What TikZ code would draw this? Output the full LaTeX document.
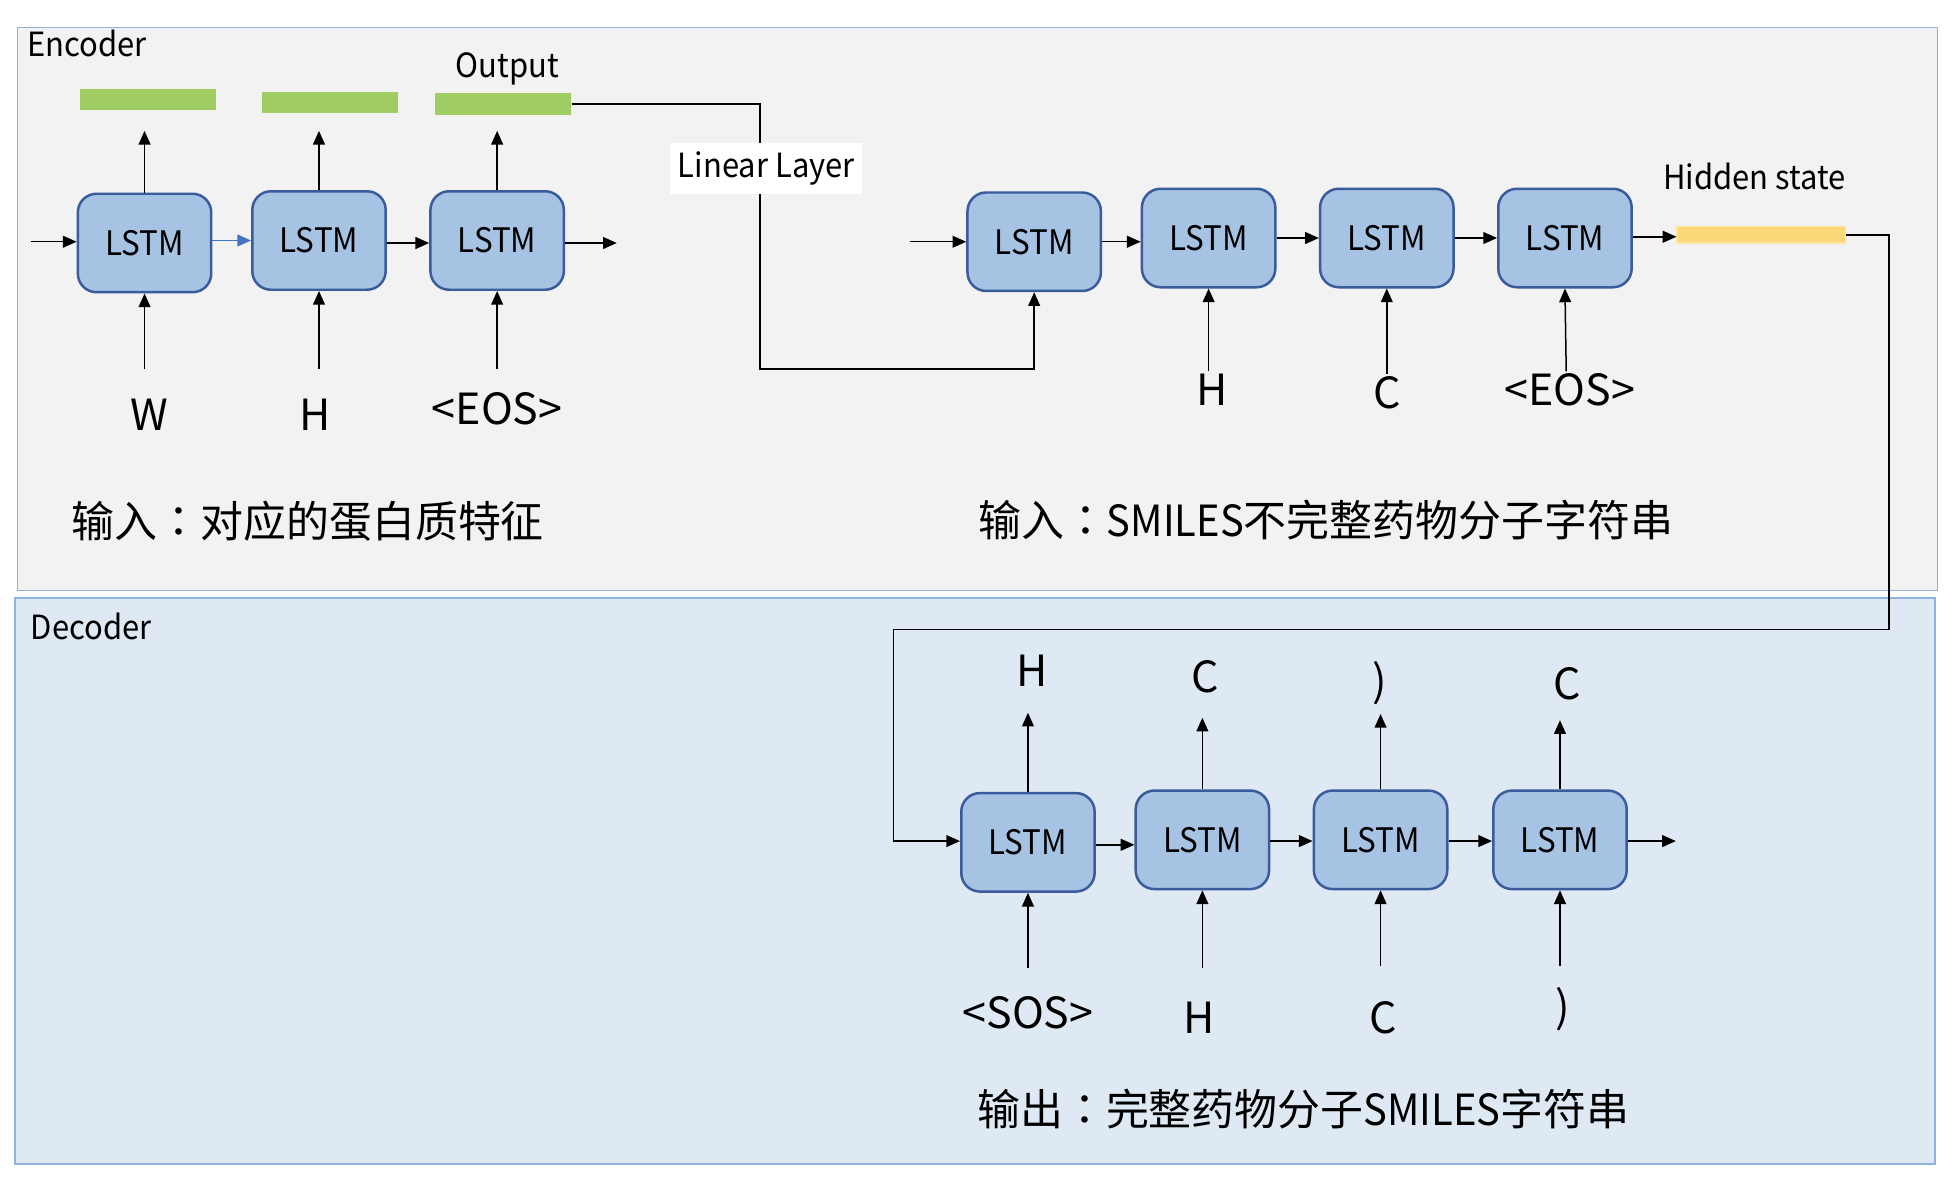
\documentclass[tikz,border=0pt]{standalone}
\usepackage{fontspec}
\setmainfont{Noto Sans CJK SC}
\newfontfamily\tcfont{Noto Sans CJK TC}
\newfontfamily\latin{Noto Sans CJK SC}[FakeStretch=0.93]
\usetikzlibrary{arrows.meta}
\definecolor{encbg}{HTML}{F2F2F2}
\definecolor{decbg}{HTML}{DFE9F4}
\definecolor{frameblue}{HTML}{8EB1DD}
\definecolor{boxfill}{HTML}{A6C3E3}
\definecolor{boxborder}{HTML}{3A5B9C}
\definecolor{bargreen}{HTML}{A0CD63}
\definecolor{baryellow}{HTML}{FAD97B}
\definecolor{baryellowedge}{HTML}{FCE59F}
\definecolor{arrblue}{HTML}{4472C4}
\newcommand{\cncolon}{{\tcfont ：}}
\tikzset{
  lstm/.style={draw=boxborder, fill=boxfill, line width=0.02cm, rounded corners=0.15cm,
    minimum width=1.07cm, minimum height=0.79cm, inner sep=0pt,
    font=\latin\fontsize{7.7pt}{9pt}\selectfont},
  gbar/.style={fill=bargreen, minimum width=1.09cm, minimum height=0.17cm, inner sep=0pt},
  ybar/.style={fill=baryellow, draw=baryellowedge, line width=0.01cm, minimum width=1.35cm, minimum height=0.13cm, inner sep=0pt},
  arr/.style={-{Triangle[length=0.11cm,width=0.095cm]}, line width=0.012cm, black},
  small/.style={inner sep=0pt, font=\latin\fontsize{7.6pt}{9pt}\selectfont},
  tok/.style={inner sep=0pt, font=\fontsize{9.8pt}{11pt}\selectfont},
  cn/.style={inner sep=0pt, font=\fontsize{9.8pt}{11pt}\selectfont},
  frame/.style={draw=frameblue, line width=0.012cm}
}
\begin{document}
\begin{tikzpicture}[x=0.01cm,y=-0.01cm]
\useasboundingbox (0,0) rectangle (1565,950);
\fill[white] (0,0) rectangle (1565,950);
% frames
\draw[frame, fill=encbg] (14,22) rectangle (1555,474);
\draw[frame, fill=decbg] (12,480) rectangle (1553,934);
\node[small, anchor=west] (enc) at (21,35) {Encoder};
\node[small, anchor=west] (dec) at (24,503) {Decoder};

% encoder left row
\node[lstm] (l1) at (116,195) {LSTM};
\node[lstm] (l2) at (256,193) {LSTM};
\node[lstm] (l3) at (399,193) {LSTM};
\node[gbar] (g1) at (118.5,80) {};
\node[gbar] (g2) at (264.5,82) {};
\node[gbar] (g3) at (403.5,83.5) {};
\node[small] (out) at (407,55) {Output};

\coordinate (in1) at (25,194);
\coordinate (o3) at (495,195);
\draw[arr] (in1) -- (in1 -| l1.west);
\draw[arr, arrblue] (l1.east |- 0,193) -- (l2.west |- 0,193);
\draw[arr] (l2.east |- 0,195) -- (l3.west |- 0,195);
\draw[arr] (l3.east |- 0,195) -- (o3);
\draw[arr] (l1.north) -- (l1.north |- 0,105);
\draw[arr] (l2.north) -- (l2.north |- 0,105);
\draw[arr] (l3.north) -- (l3.north |- 0,105);

\node[tok] (w) at (120,333) {W};
\node[tok] (h1) at (253,333) {H};
\node[tok] (e1) at (399,328) {<EOS>};
\draw[arr] (l1.south |- 0,296) -- (l1.south);
\draw[arr] (l2.south |- 0,296) -- (l2.south);
\draw[arr] (l3.south |- 0,296) -- (l3.south);

% encoder right row
\node[lstm] (l4) at (830,194) {LSTM};
\node[lstm] (l5) at (970,191) {LSTM};
\node[lstm] (l6) at (1113,191) {LSTM};
\node[lstm] (l7) at (1256,191) {LSTM};
\node[ybar] (hb) at (1413.5,188.5) {};
\node[small] (hs) at (1408,142) {Hidden state};

\coordinate (in4) at (730,194);
\draw[arr] (in4) -- (in4 -| l4.west);
\draw[arr] (l4.east |- 0,194) -- (l5.west |- 0,194);
\draw[arr] (l5.east |- 0,191) -- (l6.west |- 0,191);
\draw[arr] (l6.east |- 0,191) -- (l7.west |- 0,191);
\draw[arr] (l7.east |- 0,190) -- (hb.west |- 0,190);

\node[tok] (h2) at (973,313) {H};
\node[tok] (c2) at (1113,315) {C};
\node[tok] (e2) at (1260,313) {<EOS>};
\draw[arr] (l5.south |- 0,298) -- (l5.south);
\draw[arr] (l6.south |- 0,300) -- (l6.south);
\draw[arr] (1257,298) -- (l7.south);

% linear layer connector
\draw[arr] (g3.east) -| (610,296) -| (l4.south);
\node[small, fill=white, inner xsep=0.06cm, inner ysep=0.07cm] (lin) at (615,135) {Linear Layer};

\node[cn] (cn1) at (247,418) {输入\cncolon 对应的蛋白质特征};
\node[cn] (cn2) at (1064,417) {输入\cncolon{\latin SMILES}不完整药物分子字符串};

% decoder row
\node[lstm] (l8) at (825,676) {LSTM};
\node[lstm] (l9) at (965,674) {LSTM};
\node[lstm] (l10) at (1108,674) {LSTM};
\node[lstm] (l11) at (1252,674) {LSTM};
\coordinate (o11) at (1345,675);
\draw[arr] (l8.east |- 0,678) -- (l9.west |- 0,678);
\draw[arr] (l9.east |- 0,675) -- (l10.west |- 0,675);
\draw[arr] (l10.east |- 0,675) -- (l11.west |- 0,675);
\draw[arr] (l11.east |- 0,675) -- (o11);

% hidden state connector to decoder
\draw[arr] (hb.east) -| (1516,505) -| (717,675) -- (l8.west |- 0,675);

\node[tok] (t1) at (828,538) {H};
\node[tok] (t2) at (967,543) {C};
\node[tok] (t3) at (1107,548) {)};
\node[tok] (t4) at (1258,549) {C};
\draw[arr] (l8.north) -- (l8.north |- 0,572);
\draw[arr] (l9.north) -- (l9.north |- 0,576);
\draw[arr] (l10.north) -- (l10.north |- 0,573);
\draw[arr] (l11.north) -- (l11.north |- 0,578);

\node[tok] (b1) at (825,813) {<SOS>};
\node[tok] (b2) at (962,817) {H};
\node[tok] (b3) at (1110,817) {C};
\node[tok] (b4) at (1254,810) {)};
\draw[arr] (l8.south |- 0,777) -- (l8.south);
\draw[arr] (l9.south |- 0,777) -- (l9.south);
\draw[arr] (l10.south |- 0,775) -- (l10.south);
\draw[arr] (l11.south |- 0,775) -- (l11.south);

\node[cn] (cn3) at (1046,890) {输出\cncolon 完整药物分子{\latin SMILES}字符串};
\end{tikzpicture}
\end{document}
